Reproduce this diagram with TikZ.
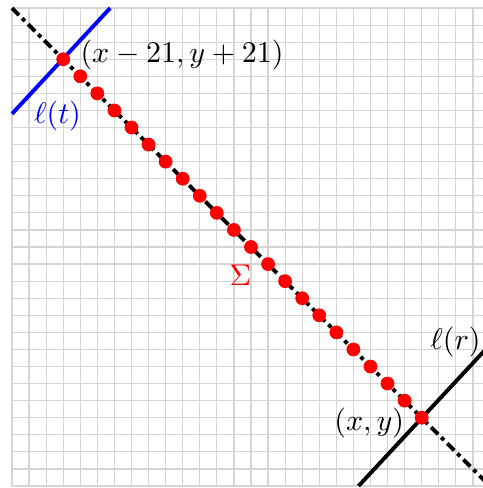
\documentclass[tikz,border=0pt]{standalone}
\begin{document}
\begin{tikzpicture}[x=0.2cm,y=0.2cm,
  gridline/.style={black!17,line width=0.4pt},
  diagline/.style={line width=1.3pt,dash pattern=on 3.3pt off 1.5pt on 1.3pt off 1.5pt},
  tline/.style={blue,line width=1.3pt},
  rline/.style={black,line width=1.3pt},
  reddot/.style={circle,fill=red,inner sep=0pt,minimum size=4.6pt},
  lab/.style={inner sep=0pt}]
\useasboundingbox (-0.703,-0.117) rectangle (27.59,28.47);
\clip (-0.703,-0.117) rectangle (27.59,28.47);
\foreach \i in {0,...,28}{
  \draw[gridline] (\i,0) -- (\i,28);
  \draw[gridline] (0,\i) -- (28,\i);
}
\coordinate (A) at (0,28);
\coordinate (B) at (28,0);
\draw[diagline] (A) -- (B);
\coordinate (T1) at (0,21.8);
\coordinate (T2) at (5.75,28);
\draw[tline] (T1) -- (T2);
\coordinate (R1) at (20.3,0);
\coordinate (R2) at (28.3,8.6);
\draw[rline] (R1) -- (R2);
\foreach \k in {0,...,21}{
  \node[reddot] (d\k) at ({3+\k},{25-\k}) {};
}
\node[lab,anchor=west] (ltop) at (3.98,25.25) {$(x-21,y+21)$};
\node[lab,anchor=east] (lbot) at (23.0,3.72) {$(x,y)$};
\node[lab,blue] (lt) at (2.67,21.65) {$\ell(t)$};
\node[lab] (lr) at (25.98,8.46) {$\ell(r)$};
\node[lab,red] (sig) at (13.39,12.34) {$\Sigma$};
\end{tikzpicture}
\end{document}
